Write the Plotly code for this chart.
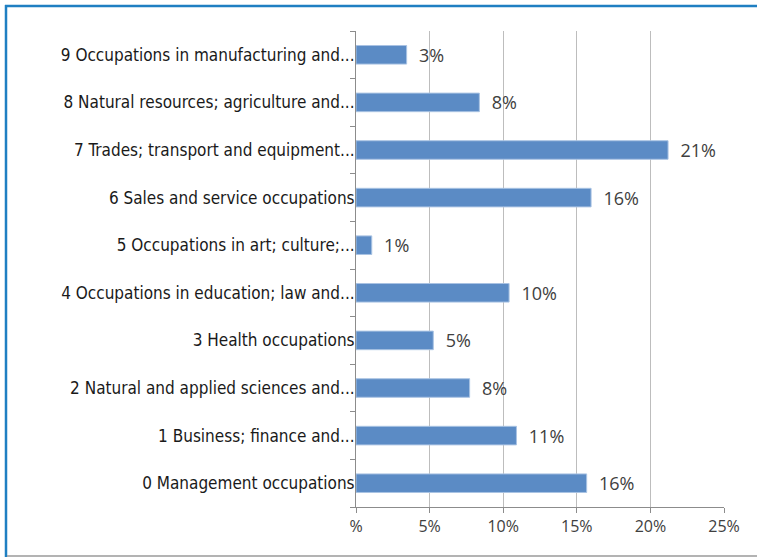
import plotly.graph_objects as go

categories = [
    "0 Management occupations",
    "1 Business; finance and...",
    "2 Natural and applied sciences and...",
    "3 Health occupations",
    "4 Occupations in education; law and...",
    "5 Occupations in art; culture;...",
    "6 Sales and service occupations",
    "7 Trades; transport and equipment...",
    "8 Natural resources; agriculture and...",
    "9 Occupations in manufacturing and...",
]
values = [15.67, 10.9, 7.72, 5.25, 10.4, 1.07, 15.97, 21.2, 8.38, 3.44]
tick_vals = [0, 5, 10, 15, 20, 25]
tick_text = ["%", "5%", "10%", "15%", "20%", "25%"]

W, H = 757, 558
ML, MR, MT, MB = 356, 33, 31, 51
PW, PH = W - ML - MR, H - MT - MB


def px_x(px):
    return (px - ML) / PW


def px_y(py):
    return (H - MB - py) / PH


fig = go.Figure(
    go.Bar(
        y=categories,
        x=values,
        orientation="h",
        marker=dict(color="#5b8bc5", line=dict(color="#a9c3e3", width=1)),
        width=0.39,
        texttemplate="\u00a0\u00a0%{x:.0f}%",
        textposition="outside",
        constraintext="none",
        cliponaxis=False,
        textfont=dict(family="Open Sans, Noto Sans, sans-serif", size=18, color="#404040"),
        hoverinfo="skip",
    )
)

fig.update_layout(
    width=W,
    height=H,
    margin=dict(l=ML, r=MR, t=MT, b=MB, pad=0),
    paper_bgcolor="white",
    plot_bgcolor="white",
    showlegend=False,
    xaxis=dict(
        range=[0, 25],
        tickvals=tick_vals,
        ticktext=tick_text,
        showgrid=True,
        gridcolor="#bdbdbd",
        gridwidth=1,
        zeroline=False,
        showline=True,
        linecolor="#8c8c8c",
        linewidth=1,
        ticks="outside",
        ticklen=5,
        tickcolor="#8c8c8c",
        tickfont=dict(family="Open Sans, Noto Sans, sans-serif", size=16, color="#404040"),
    ),
    yaxis=dict(
        type="category",
        categoryorder="array",
        categoryarray=categories,
        range=[-0.5, 9.5],
        showgrid=False,
        showline=True,
        linecolor="#8c8c8c",
        linewidth=1,
        ticks="outside",
        ticklen=5,
        tickcolor="#8c8c8c",
        tickson="boundaries",
        ticklabelstandoff=-3,
        tickfont=dict(family="Liberation Sans Narrow, DejaVu Sans Condensed, Roboto Condensed, Roboto, sans-serif",
                      size=17, color="#1a1a1a"),
    ),
    shapes=[
        dict(type="line", xref="paper", yref="paper", layer="above",
             x0=px_x(5), x1=px_x(757), y0=px_y(6), y1=px_y(6),
             line=dict(color="#1f7fc2", width=2.5)),
        dict(type="line", xref="paper", yref="paper", layer="above",
             x0=px_x(6), x1=px_x(6), y0=px_y(5), y1=px_y(557),
             line=dict(color="#1f7fc2", width=2.5)),
        dict(type="line", xref="paper", yref="paper", layer="above",
             x0=px_x(7), x1=px_x(757), y0=px_y(556), y1=px_y(556),
             line=dict(color="#9a9a9a", width=1.5)),
    ],
)

fig.write_html(
    "out.html",
    config={"displayModeBar": False},
    post_script="document.body.style.margin='0';document.body.style.overflow='hidden';",
)
